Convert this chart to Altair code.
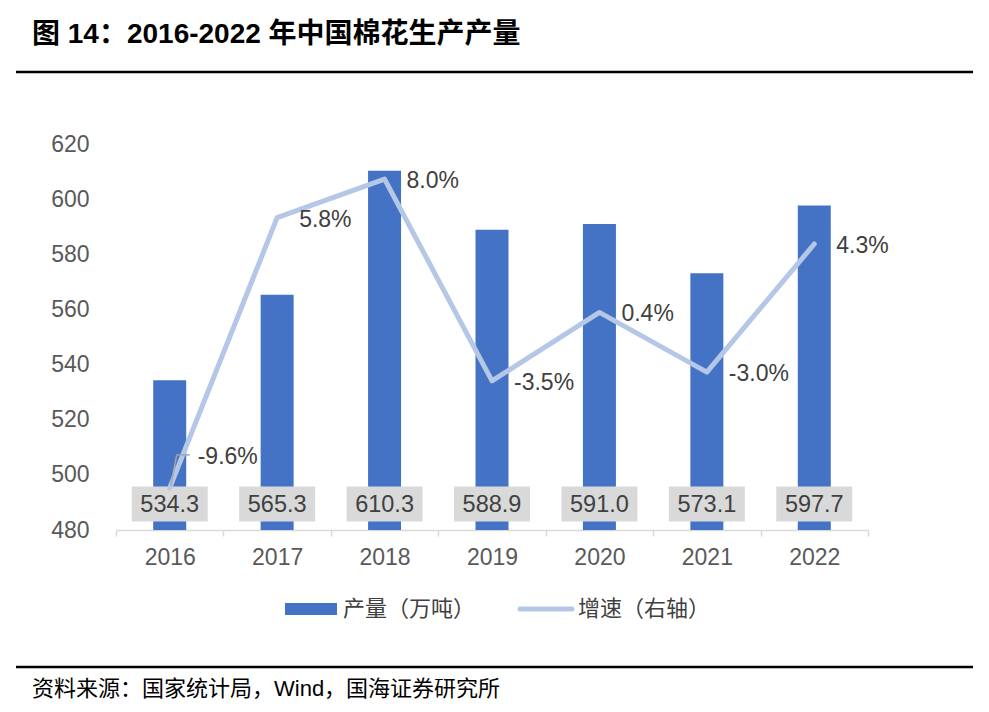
import altair as alt
import pandas as pd

years = ["2016", "2017", "2018", "2019", "2020", "2021", "2022"]
production = [534.3, 565.3, 610.3, 588.9, 591.0, 573.1, 597.7]
growth = [-9.6, 5.8, 8.0, -3.5, 0.4, -3.0, 4.3]

title_text = "图 14：2016-2022 年中国棉花生产产量"
source_text = "资料来源：国家统计局，Wind，国海证券研究所"
legend_bar = "产量（万吨）"
legend_line = "增速（右轴）"

BAR = "#4472C4"
LINE = "#B4C7E7"
TXT = "#404040"
AX = "#595959"
LAT = "Liberation Sans, Arial, Noto Sans CJK SC"
CJK = "Liberation Sans, Noto Sans CJK SC"

df = pd.DataFrame({"year": years, "prod": production, "growth": growth})

xenc = alt.X(
    "year:N",
    sort=years,
    title=None,
    scale=alt.Scale(type="band", paddingInner=0, paddingOuter=0),
    axis=alt.Axis(
        domainColor="#D9D9D9", domainWidth=1.5, tickColor="#D9D9D9", tickWidth=1.5,
        tickSize=6, tickBand="extent", labelFont=LAT, labelFontSize=23,
        labelColor=AX, labelPadding=10, labelAngle=0,
    ),
)
xs = alt.X("year:N", sort=years)

base = alt.Chart(df)

bars = base.mark_bar(color=BAR, size=33).encode(
    x=xenc,
    y=alt.Y(
        "prod:Q", title=None,
        scale=alt.Scale(domain=[480, 620], zero=False, nice=False),
        axis=alt.Axis(orient="left", values=list(range(480, 621, 20)), domain=False,
                      ticks=False, grid=False, labelFont=LAT, labelFontSize=23,
                      labelColor=AX, labelPadding=27),
    ),
    y2=alt.datum(480),
)

boxes = base.mark_point(
    shape="M-1,-0.4605L1,-0.4605L1,0.4605L-1,0.4605Z",
    filled=True, fill="#D9D9D9", size=5776, opacity=1, strokeWidth=0,
).encode(x=xs, y=alt.value(360))

bar_text = base.mark_text(font=LAT, fontSize=23.5, color=TXT, baseline="middle").encode(
    x=xs, y=alt.value(361), text=alt.Text("prod:Q", format=".1f")
)

prod_layer = alt.layer(bars, boxes, bar_text)

gscale = alt.Scale(domain=[-12, 10], nice=False, zero=False)
gy = alt.Y(
    "growth:Q", title=None, scale=gscale,
    axis=alt.Axis(orient="right", values=list(range(-12, 11, 2)), domain=False,
                  ticks=False, grid=False, labelFont=LAT, labelFontSize=23,
                  labelColor=AX, labelPadding=25, labelAlign="left",
                  labelExpr="datum.value + '%'"),
)
gy_noaxis = alt.Y("growth:Q", scale=gscale, axis=None)

line = base.mark_line(color=LINE, strokeWidth=5, strokeCap="round", strokeJoin="round").encode(
    x=xs, y=gy
)

lab_expr = "(datum.growth < 0 ? '-' : '') + format(abs(datum.growth), '.1f') + '%'"
line_text = base.transform_calculate(label=lab_expr).transform_filter(
    "datum.year != '2016'"
).mark_text(font=LAT, fontSize=23, color=TXT, align="left", baseline="middle", dx=22, dy=2).encode(
    x=xs, y=gy_noaxis, text="label:N"
)
first = base.transform_filter("datum.year == '2016'")
line_text_first = first.transform_calculate(label=lab_expr).mark_text(
    font=LAT, fontSize=23, color=TXT, align="left", baseline="middle", dx=28, dy=-31
).encode(x=xs, y=gy_noaxis, text="label:N")

leader_diag = first.mark_rule(color="#A6A6A6", strokeWidth=1.5, xOffset=1, yOffset=-2,
                              x2Offset=7, y2Offset=-33).encode(
    x=xs, y=gy_noaxis, x2="year:N", y2="growth:Q")
leader_h = first.mark_rule(color="#A6A6A6", strokeWidth=1.5, xOffset=7, yOffset=-33,
                           x2Offset=20, y2Offset=-33).encode(
    x=xs, y=gy_noaxis, x2="year:N", y2="growth:Q")

growth_layer = alt.layer(line, leader_diag, leader_h, line_text, line_text_first)

one = pd.DataFrame({"t": [title_text], "s": [source_text], "a": [legend_bar], "b": [legend_line]})
dec = alt.Chart(one)

title_mark = dec.mark_text(font=CJK, fontSize=28, fontWeight="bold", color="#000000",
                           align="left", baseline="middle").encode(
    x=alt.value(-84), y=alt.value(-109), text="t:N")
rule_top = dec.mark_rule(color="#000000", strokeWidth=2.5).encode(
    x=alt.value(-100), x2=alt.value(864), y=alt.value(-72))
rule_bot = dec.mark_rule(color="#000000", strokeWidth=2.5).encode(
    x=alt.value(-100), x2=alt.value(864), y=alt.value(523))
source_mark = dec.mark_text(font=CJK, fontSize=22, color="#000000",
                            align="left", baseline="middle").encode(
    x=alt.value(-84), y=alt.value(545), text="s:N")
leg_rect = dec.mark_rect(color=BAR).encode(
    x=alt.value(169), x2=alt.value(221), y=alt.value(459), y2=alt.value(471))
leg_text1 = dec.mark_text(font="Noto Sans CJK SC", fontSize=22, color=TXT,
                          align="left", baseline="middle").encode(
    x=alt.value(227), y=alt.value(465), text="a:N")
leg_rule = dec.mark_rule(color=LINE, strokeWidth=5, strokeCap="round").encode(
    x=alt.value(404), x2=alt.value(456), y=alt.value(465))
leg_text2 = dec.mark_text(font="Noto Sans CJK SC", fontSize=22, color=TXT,
                          align="left", baseline="middle").encode(
    x=alt.value(462), y=alt.value(465), text="b:N")

chart = alt.layer(
    prod_layer, growth_layer,
    title_mark, rule_top, rule_bot, source_mark,
    leg_rect, leg_text1, leg_rule, leg_text2,
).resolve_scale(y="independent").properties(
    width=752, height=386,
    padding={"left": 108, "top": 136, "right": 105, "bottom": 172},
    autosize=alt.AutoSizeParams(type="none"),
    background="white",
).configure_view(stroke=None)

chart.save("out.html", embed_options={"renderer": "svg", "actions": False})
